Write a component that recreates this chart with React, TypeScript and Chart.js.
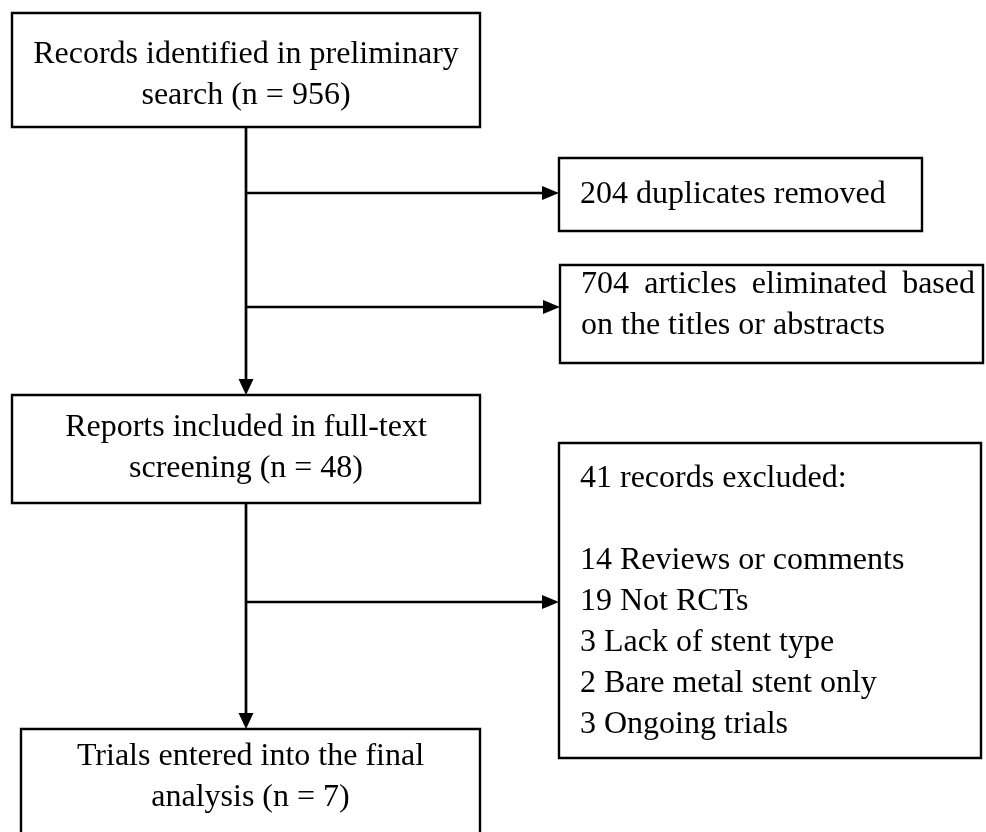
import React, { useEffect, useRef } from "react";
import { Chart, registerables } from "chart.js";

Chart.register(...registerables);

// ---- data (counts of the PRISMA flow) ----
const recordsIdentified = 956;
const duplicatesRemoved = 204;
const titlesEliminated = 704;
const fullTextScreened = 48;
const excludedTotal = 41;
const exclusionCounts = [14, 19, 3, 2, 3];
const exclusionReasons = [
  "Reviews or comments",
  "Not RCTs",
  "Lack of stent type",
  "Bare metal stent only",
  "Ongoing trials",
];
const finalTrials = 7;

// node texts (lines)
const nodeTexts: string[][] = [
  ["Records identified in preliminary", `search (n = ${recordsIdentified})`],
  [`${duplicatesRemoved} duplicates removed`],
  [`${titlesEliminated} articles eliminated based`, "on the titles or abstracts"],
  ["Reports included in full-text", `screening (n = ${fullTextScreened})`],
  [
    `${excludedTotal} records excluded:`,
    "",
    ...exclusionCounts.map((c, i) => `${c} ${exclusionReasons[i]}`),
  ],
  ["Trials entered into the final", `analysis (n = ${finalTrials})`],
];

// ---- layout (chart units: 0..986 horizontally, 0..832 vertically, top-down) ----
const nodeLeft = [12, 559, 560, 12, 559, 21];
const nodeRight = [480, 922, 983, 480, 981, 480];
const nodeTop = [13, 158, 265, 395, 443, 729];
const nodeBottom = [127, 231, 363, 503, 758, 850];
const nodeAlign = ["center", "left", "justify", "center", "left", "center"];
const nodeFirstBaseline = [63, 203, 293, 436, 487, 765];
const nodeLineGap = 41;
const textInset = 21;

const trunkX = 246;
// connectors: [x0, y0, x1, y1]
const connectors: [number, number, number, number][] = [
  [trunkX, 127, trunkX, 395],
  [trunkX, 193, 559, 193],
  [trunkX, 307, 560, 307],
  [trunkX, 503, trunkX, 729],
  [trunkX, 602, 559, 602],
];

const LINE_COLOR = "#000000";
const FONT = '32px "Liberation Serif", "Times New Roman", serif';

export default function App() {
  const canvasRef = useRef<HTMLCanvasElement | null>(null);

  useEffect(() => {
    if (!canvasRef.current) return;

    const boxDatasets = nodeLeft.map((l, i) => {
      const r = nodeRight[i];
      const t = nodeTop[i];
      const b = nodeBottom[i];
      return {
        type: "scatter" as const,
        data: [
          { x: l, y: t },
          { x: r, y: t },
          { x: r, y: b },
          { x: l, y: b },
          { x: l, y: t },
          { x: r, y: t },
        ],
        showLine: true,
        borderColor: LINE_COLOR,
        borderWidth: 2.4,
        pointRadius: 0,
        tension: 0,
        borderJoinStyle: "miter" as const,
        fill: false,
      };
    });

    const connectorDatasets = connectors.map(([x0, y0, x1, y1]) => {
      const horiz = y0 === y1;
      const ex = horiz ? x1 - 14 : x1;
      const ey = horiz ? y1 : y1 - 13;
      return {
        type: "scatter" as const,
        data: [
          { x: x0, y: y0 },
          { x: ex, y: ey },
        ],
        showLine: true,
        borderColor: LINE_COLOR,
        borderWidth: 2.7,
        pointRadius: 0,
        tension: 0,
        fill: false,
      };
    });

    const flowPlugin = {
      id: "flowPlugin",
      afterDatasetsDraw(chart: any) {
        const ctx = chart.ctx as CanvasRenderingContext2D;
        const xs = chart.scales.x;
        const ys = chart.scales.y;
        const px = (v: number) => xs.getPixelForValue(v);
        const py = (v: number) => ys.getPixelForValue(v);
        ctx.save();
        // arrowheads
        ctx.fillStyle = LINE_COLOR;
        connectors.forEach(([, y0, x1, y1]) => {
          const horiz = y0 === y1;
          ctx.beginPath();
          if (horiz) {
            ctx.moveTo(px(x1), py(y1));
            ctx.lineTo(px(x1 - 17), py(y1 - 7));
            ctx.lineTo(px(x1 - 17), py(y1 + 7));
          } else {
            ctx.moveTo(px(x1), py(y1));
            ctx.lineTo(px(x1 - 7.5), py(y1 - 16));
            ctx.lineTo(px(x1 + 7.5), py(y1 - 16));
          }
          ctx.closePath();
          ctx.fill();
        });
        // texts
        ctx.font = FONT;
        ctx.fillStyle = "#000000";
        ctx.textBaseline = "alphabetic";
        nodeTexts.forEach((lines, i) => {
          const l = nodeLeft[i];
          const r = nodeRight[i];
          const align = nodeAlign[i];
          lines.forEach((line, j) => {
            if (!line) return;
            const y = py(nodeFirstBaseline[i] + j * nodeLineGap);
            if (align === "center") {
              ctx.textAlign = "center";
              ctx.fillText(line, px((l + r) / 2), y);
            } else if (align === "justify" && j < lines.length - 1) {
              const words = line.split(" ");
              const x0 = px(l + textInset);
              const x1 = px(r - 8);
              const widths = words.map((w) => ctx.measureText(w).width);
              const total = widths.reduce((a, b) => a + b, 0);
              const gap = (x1 - x0 - total) / (words.length - 1);
              ctx.textAlign = "left";
              let cx = x0;
              words.forEach((w, k) => {
                ctx.fillText(w, cx, y);
                cx += widths[k] + gap;
              });
            } else {
              ctx.textAlign = "left";
              ctx.fillText(line, px(l + textInset), y);
            }
          });
        });
        ctx.restore();
      },
    };

    const chart = new Chart(canvasRef.current, {
      type: "scatter",
      data: { datasets: [...boxDatasets, ...connectorDatasets] as any },
      options: {
        animation: false,
        responsive: true,
        maintainAspectRatio: false,
        layout: { padding: 0 },
        plugins: {
          legend: { display: false },
          tooltip: { enabled: false },
          title: { display: false },
        },
        events: [],
        scales: {
          x: { type: "linear", min: 0, max: 986, display: false },
          y: { type: "linear", min: 0, max: 832, reverse: true, display: false },
        },
      },
      plugins: [flowPlugin],
    });

    return () => chart.destroy();
  }, []);

  return (
    <div
      style={{
        position: "absolute",
        left: 0,
        top: 0,
        width: 986,
        height: 832,
        background: "#ffffff",
      }}
    >
      <canvas ref={canvasRef} />
    </div>
  );
}
